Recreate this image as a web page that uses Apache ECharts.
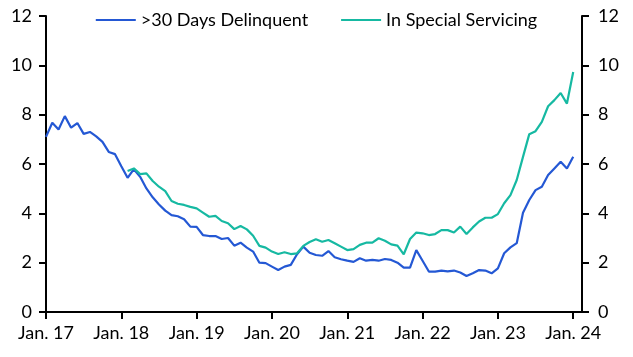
<!DOCTYPE html>
<html>
<head>
<meta charset="utf-8">
<script src="https://cdn.jsdelivr.net/npm/echarts@6/dist/echarts.min.js"></script>
<style>
html,body{margin:0;padding:0;background:#fff;}
#chart{width:633px;height:357px;}
</style>
</head>
<body>
<div id="chart"></div>
<script>
// Monthly data, Jan 2017 (index 0) to Jan 2024 (index 84)
var tickLabels = ['Jan. 17','Jan. 18','Jan. 19','Jan. 20','Jan. 21','Jan. 22','Jan. 23','Jan. 24'];
var seriesNames = ['>30 Days Delinquent', 'In Special Servicing'];
var delinquent = [
  7.10,7.67,7.40,7.94,7.47,7.66,7.22,7.30,7.12,6.90,6.49,6.40,
  5.91,5.44,5.79,5.48,5.01,4.65,4.36,4.11,3.93,3.88,3.76,3.46,
  3.45,3.12,3.08,3.08,2.96,3.00,2.69,2.81,2.61,2.45,2.00,1.98,
  1.84,1.70,1.84,1.91,2.34,2.65,2.40,2.31,2.28,2.47,2.22,2.14,
  2.08,2.03,2.18,2.08,2.11,2.08,2.15,2.11,2.00,1.80,1.80,2.51,
  2.08,1.64,1.64,1.68,1.65,1.68,1.60,1.46,1.57,1.70,1.68,1.57,
  1.77,2.38,2.62,2.79,4.02,4.54,4.94,5.08,5.55,5.82,6.09,5.82,
  6.29
];
var specialServicing = [
  null,null,null,null,null,null,null,null,null,null,null,null,
  null,5.72,5.82,5.59,5.62,5.31,5.08,4.90,4.50,4.39,4.34,4.26,
  4.20,4.03,3.86,3.90,3.69,3.60,3.36,3.49,3.35,3.09,2.68,2.61,
  2.45,2.35,2.42,2.35,2.38,2.68,2.84,2.95,2.85,2.92,2.79,2.65,
  2.51,2.55,2.72,2.81,2.81,2.99,2.89,2.74,2.69,2.34,2.96,3.22,
  3.19,3.12,3.16,3.32,3.32,3.22,3.46,3.16,3.43,3.67,3.82,3.82,
  3.97,4.41,4.74,5.35,6.29,7.21,7.33,7.71,8.34,8.59,8.88,8.45,
  9.73
];

function toPairs(arr){
  var out = [];
  for (var i = 0; i < arr.length; i++) out.push([i, arr[i]]);
  return out;
}
var tickValues = tickLabels.map(function(_, k){ return k * 12; });

var FONT = 'Lato';
var chart = echarts.init(document.getElementById('chart'), null, {renderer:'canvas'});
var yAxisCommon = {
  type: 'value', min: 0, max: 12, interval: 2,
  axisLine: {show: true, lineStyle: {color: '#000', width: 2}},
  axisTick: {show: true, length: 7, inside: false, lineStyle: {color: '#000', width: 2}},
  splitLine: {show: false},
  axisLabel: {color: '#000', fontSize: 18, fontFamily: FONT, margin: 14}
};
chart.setOption({
  animation: false,
  backgroundColor: '#fff',
  textStyle: {fontFamily: FONT},
  legend: {
    top: 6, left: 'center',
    icon: 'rect',
    itemWidth: 40, itemHeight: 2, itemGap: 33,
    textStyle: {color: '#000', fontSize: 18, fontFamily: FONT},
    data: seriesNames
  },
  grid: {left: 46, right: 51, top: 16, bottom: 45, containLabel: false},
  xAxis: {
    type: 'value', min: 0, max: 85.4,
    axisLine: {show: true, onZero: false, lineStyle: {color: '#000', width: 2}},
    axisTick: {show: true, length: 7, inside: false, customValues: tickValues, lineStyle: {color: '#000', width: 2}},
    splitLine: {show: false},
    axisLabel: {
      color: '#000', fontSize: 18, fontFamily: FONT, margin: 12,
      customValues: tickValues,
      formatter: function(v){ return tickLabels[Math.round(v / 12)]; }
    }
  },
  yAxis: [
    Object.assign({position: 'left'}, yAxisCommon),
    Object.assign({position: 'right'}, yAxisCommon, {axisLabel: Object.assign({}, yAxisCommon.axisLabel, {margin: 16})})
  ],
  series: [
    {name: seriesNames[0], type: 'line', data: toPairs(delinquent), symbol: 'none',
     lineStyle: {color: '#2458d4', width: 2.2}, itemStyle: {color: '#2458d4'}},
    {name: seriesNames[1], type: 'line', data: toPairs(specialServicing), symbol: 'none', connectNulls: false,
     lineStyle: {color: '#16b9a2', width: 2.2}, itemStyle: {color: '#16b9a2'}}
  ]
});
</script>
</body>
</html>
